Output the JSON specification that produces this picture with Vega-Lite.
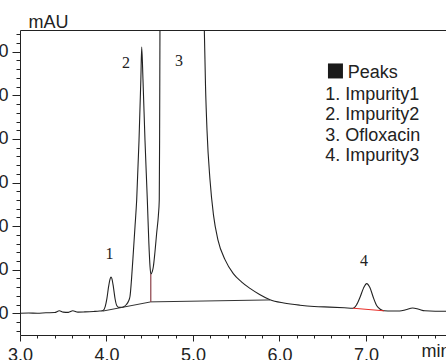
{
  "$schema": "https://vega.github.io/schema/vega-lite/v6.json",
  "width": 426,
  "height": 305,
  "autosize": {"type": "none"},
  "padding": {"left": 20, "top": 30, "right": 0, "bottom": 25},
  "config": {
    "view": {"stroke": null},
    "font": "Liberation Sans",
    "axis": {
      "grid": false,
      "labelFont": "Liberation Sans",
      "labelFontSize": 18,
      "labelColor": "#222",
      "domainColor": "#222",
      "tickColor": "#222",
      "titleFont": "Liberation Sans",
      "titleFontSize": 18,
      "titleFontWeight": "normal",
      "titleColor": "#222"
    }
  },
  "datasets": {
    "signal": [
      {"t": 3.0, "v": 0.0}, {"t": 3.1, "v": 0.05}, {"t": 3.2, "v": 0.0}, {"t": 3.3, "v": 0.1},
      {"t": 3.4, "v": 0.15}, {"t": 3.455, "v": 0.55}, {"t": 3.5, "v": 0.25}, {"t": 3.56, "v": 0.2},
      {"t": 3.61, "v": 0.55}, {"t": 3.67, "v": 0.25}, {"t": 3.75, "v": 0.3}, {"t": 3.85, "v": 0.4},
      {"t": 3.92, "v": 0.5}, {"t": 3.96, "v": 0.6},
      {"t": 3.985, "v": 1.5}, {"t": 4.005, "v": 3.4}, {"t": 4.025, "v": 6.2}, {"t": 4.042, "v": 7.9},
      {"t": 4.052, "v": 8.3}, {"t": 4.063, "v": 7.9}, {"t": 4.08, "v": 6.0}, {"t": 4.1, "v": 3.2},
      {"t": 4.12, "v": 1.7}, {"t": 4.14, "v": 1.35}, {"t": 4.17, "v": 1.35}, {"t": 4.2, "v": 1.5},
      {"t": 4.23, "v": 2.0}, {"t": 4.255, "v": 2.8},
      {"t": 4.272, "v": 3.9}, {"t": 4.29, "v": 8}, {"t": 4.312, "v": 14.5}, {"t": 4.33, "v": 20},
      {"t": 4.349, "v": 26}, {"t": 4.376, "v": 39.7}, {"t": 4.397, "v": 53.5}, {"t": 4.407, "v": 61.1},
      {"t": 4.422, "v": 53.5}, {"t": 4.445, "v": 39.7}, {"t": 4.472, "v": 26}, {"t": 4.49, "v": 16},
      {"t": 4.503, "v": 10.8}, {"t": 4.512, "v": 9.0},
      {"t": 4.53, "v": 9.6}, {"t": 4.541, "v": 10.6}, {"t": 4.56, "v": 14}, {"t": 4.58, "v": 18.4},
      {"t": 4.6, "v": 22.5}, {"t": 4.61, "v": 26}, {"t": 4.614, "v": 40}, {"t": 4.618, "v": 65},
      {"t": 4.63, "v": 110}, {"t": 4.75, "v": 350}, {"t": 4.95, "v": 260}, {"t": 5.1, "v": 110},
      {"t": 5.131, "v": 65}, {"t": 5.145, "v": 52}, {"t": 5.162, "v": 42}, {"t": 5.197, "v": 30.5},
      {"t": 5.237, "v": 22.5}, {"t": 5.289, "v": 16.8}, {"t": 5.37, "v": 12.3}, {"t": 5.466, "v": 9.1},
      {"t": 5.56, "v": 7.2}, {"t": 5.659, "v": 5.7}, {"t": 5.77, "v": 4.3}, {"t": 5.89, "v": 3.1},
      {"t": 6.05, "v": 2.35}, {"t": 6.237, "v": 1.84}, {"t": 6.4, "v": 1.55}, {"t": 6.58, "v": 1.4},
      {"t": 6.75, "v": 1.25}, {"t": 6.85, "v": 1.15},
      {"t": 6.89, "v": 1.9}, {"t": 6.93, "v": 3.6}, {"t": 6.97, "v": 5.7}, {"t": 7.008, "v": 6.8},
      {"t": 7.045, "v": 5.9}, {"t": 7.085, "v": 3.6}, {"t": 7.125, "v": 1.7}, {"t": 7.165, "v": 0.9},
      {"t": 7.208, "v": 0.55}, {"t": 7.3, "v": 0.5}, {"t": 7.39, "v": 0.5}, {"t": 7.46, "v": 0.8},
      {"t": 7.54, "v": 1.2}, {"t": 7.61, "v": 0.9}, {"t": 7.68, "v": 0.55}, {"t": 7.8, "v": 0.45},
      {"t": 7.925, "v": 0.45}
    ],
    "baseline": [
      {"t": 3.96, "v": 0.5}, {"t": 4.512, "v": 2.6}, {"t": 5.89, "v": 3.05}
    ],
    "baseline4": [
      {"t": 6.85, "v": 1.15}, {"t": 7.208, "v": 0.55}
    ],
    "drop": [
      {"t": 4.512, "v": 2.6, "v2": 9.0}
    ],
    "peaks": [
      {"label": "1", "t": 4.035, "v": 12.44},
      {"label": "2", "t": 4.225, "v": 56.35},
      {"label": "3", "t": 4.838, "v": 56.8},
      {"label": "4", "t": 6.977, "v": 10.9}
    ],
    "legendSymbol": [
      {"t": 6.647, "v": 55.6}
    ],
    "legendText": [
      {"label": "Peaks", "t": 6.79, "v": 53.98},
      {"label": "1. Impurity1", "t": 6.53, "v": 48.93},
      {"label": "2. Impurity2", "t": 6.53, "v": 44.23},
      {"label": "3. Ofloxacin", "t": 6.53, "v": 39.52},
      {"label": "4. Impurity3", "t": 6.53, "v": 34.82}
    ]
  },
  "layer": [
    {
      "data": {"name": "signal"},
      "mark": {"type": "line", "color": "#222", "strokeWidth": 1.1, "clip": true, "interpolate": "monotone"},
      "encoding": {
        "x": {
          "field": "t", "type": "quantitative",
          "scale": {"domain": [3, 7.925], "nice": false, "zero": false},
          "axis": {
            "orient": "bottom", "values": [3, 4, 5, 6, 7], "format": ".1f",
            "tickSize": 6, "labelPadding": 5, "labelFlush": false, "labelDx": 2,
            "title": "min", "titleAlign": "left", "titleBaseline": "top",
            "titleX": 401, "titleY": 7
          }
        },
        "y": {
          "field": "v", "type": "quantitative",
          "scale": {"domain": [-5, 65], "nice": false, "zero": false},
          "axis": {
            "orient": "left", "values": [0, 10, 20, 30, 40, 50, 60],
            "tickSize": 8, "labelPadding": 4,
            "title": "mAU", "titleAngle": 0, "titleAlign": "left", "titleBaseline": "alphabetic",
            "titleX": 8, "titleY": -3
          }
        }
      }
    },
    {
      "data": {"name": "baseline"},
      "mark": {"type": "line", "color": "#333", "strokeWidth": 1},
      "encoding": {
        "x": {
          "field": "t", "type": "quantitative",
          "scale": {"domain": [3, 7.925], "nice": false, "zero": false},
          "axis": {
            "orient": "bottom",
            "values": [3.2, 3.4, 3.6, 3.8, 4.2, 4.4, 4.6, 4.8, 5.2, 5.4, 5.6, 5.8, 6.2, 6.4, 6.6, 6.8, 7.2, 7.4, 7.6, 7.8],
            "tickSize": 3, "labels": false, "domain": false, "title": null
          }
        },
        "y": {
          "field": "v", "type": "quantitative",
          "scale": {"domain": [-5, 65], "nice": false, "zero": false},
          "axis": {
            "orient": "left",
            "values": [-4, -2, 2, 4, 6, 8, 12, 14, 16, 18, 22, 24, 26, 28, 32, 34, 36, 38, 42, 44, 46, 48, 52, 54, 56, 58, 62, 64],
            "tickSize": 4, "labels": false, "domain": false, "title": null
          }
        }
      }
    },
    {
      "data": {"name": "baseline4"},
      "mark": {"type": "line", "color": "#e8302a", "strokeWidth": 1},
      "encoding": {
        "x": {
          "field": "t", "type": "quantitative",
          "scale": {"domain": [3, 7.925], "nice": false, "zero": false},
          "axis": {"orient": "top", "ticks": false, "labels": false, "domain": true, "title": null}
        },
        "y": {
          "field": "v", "type": "quantitative",
          "scale": {"domain": [-5, 65], "nice": false, "zero": false},
          "axis": null
        }
      }
    },
    {
      "data": {"name": "drop"},
      "mark": {"type": "rule", "color": "#8b3f48", "strokeWidth": 1.2},
      "encoding": {
        "x": {"field": "t", "type": "quantitative", "scale": {"domain": [3, 7.925], "nice": false, "zero": false}, "axis": null},
        "y": {"field": "v", "type": "quantitative", "scale": {"domain": [-5, 65], "nice": false, "zero": false}, "axis": null},
        "y2": {"field": "v2"}
      }
    },
    {
      "data": {"name": "peaks"},
      "mark": {"type": "text", "font": "Liberation Serif", "fontSize": 16, "color": "#222", "align": "center", "baseline": "alphabetic"},
      "encoding": {
        "x": {"field": "t", "type": "quantitative", "scale": {"domain": [3, 7.925], "nice": false, "zero": false}, "axis": null},
        "y": {"field": "v", "type": "quantitative", "scale": {"domain": [-5, 65], "nice": false, "zero": false}, "axis": null},
        "text": {"field": "label"}
      }
    },
    {
      "data": {"name": "legendSymbol"},
      "mark": {"type": "point", "shape": "square", "filled": true, "size": 225, "color": "#1a1a1a", "opacity": 1, "strokeWidth": 0},
      "encoding": {
        "x": {"field": "t", "type": "quantitative", "scale": {"domain": [3, 7.925], "nice": false, "zero": false}, "axis": null},
        "y": {"field": "v", "type": "quantitative", "scale": {"domain": [-5, 65], "nice": false, "zero": false}, "axis": null}
      }
    },
    {
      "data": {"name": "legendText"},
      "mark": {"type": "text", "font": "Liberation Sans", "fontSize": 18, "color": "#222", "align": "left", "baseline": "alphabetic"},
      "encoding": {
        "x": {"field": "t", "type": "quantitative", "scale": {"domain": [3, 7.925], "nice": false, "zero": false}, "axis": null},
        "y": {"field": "v", "type": "quantitative", "scale": {"domain": [-5, 65], "nice": false, "zero": false}, "axis": null},
        "text": {"field": "label"}
      }
    }
  ],
  "resolve": {"axis": {"x": "independent", "y": "independent"}}
}
